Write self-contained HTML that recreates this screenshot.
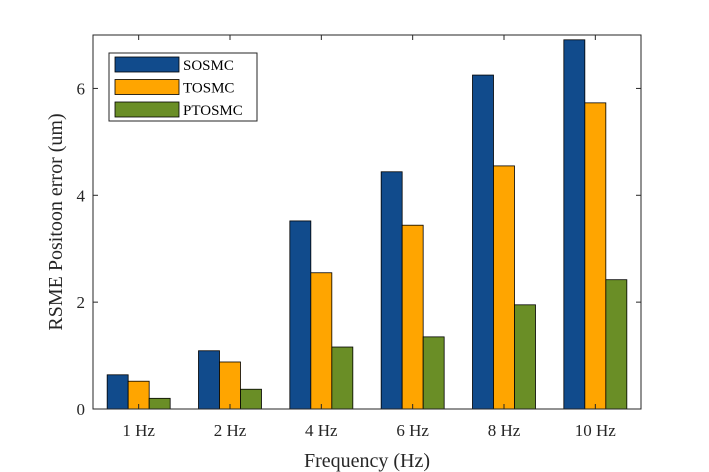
<!DOCTYPE html>
<html><head><meta charset="utf-8"><style>body{margin:0;background:#fff}svg{display:block;font-family:"Liberation Serif",serif}</style></head>
<body>
<svg id="chart" width="709" height="472"></svg>
<script>
const categories=["1 Hz","2 Hz","4 Hz","6 Hz","8 Hz","10 Hz"];
const seriesNames=["SOSMC","TOSMC","PTOSMC"];
const sosmc=[0.64,1.09,3.52,4.44,6.25,6.91];
const tosmc=[0.52,0.88,2.55,3.44,4.55,5.73];
const ptosmc=[0.2,0.37,1.16,1.35,1.95,2.42];
const yTicks=[0,2,4,6];
const colors=["#114b8c","#ffa500","#6a8e26"];
const svg=document.getElementById('chart');const NS="http://www.w3.org/2000/svg";
function mk(t,a,p){const e=document.createElementNS(NS,t);for(const k in a)e.setAttribute(k,a[k]);(p||svg).appendChild(e);return e;}
const L=93,R=641,T=35,B=409;
const x=i=>L+(i+1-0.5)/6*(R-L);
const y=v=>B-v/7*(B-T);
const bw=21;
const data=[sosmc,tosmc,ptosmc];
data.forEach((s,si)=>s.forEach((v,i)=>{
 const r=mk('rect',{x:x(i)+(si-1)*bw-bw/2,y:y(v),width:bw,height:B-y(v),fill:colors[si],stroke:'#000','stroke-width':0.8});
 
 
}));
const ax=mk('rect',{x:L,y:T,width:R-L,height:B-T,fill:'none',stroke:'#262626','stroke-width':1});

yTicks.forEach(t=>{
 mk('line',{x1:L,x2:L+5,y1:y(t),y2:y(t),stroke:'#262626'});
 mk('line',{x1:R,x2:R-5,y1:y(t),y2:y(t),stroke:'#262626'});
 const tx=mk('text',{x:L-8,y:y(t)+6,'text-anchor':'end','font-size':17,fill:'#262626'});tx.textContent=t;
 
});
categories.forEach((c,i)=>{
 mk('line',{x1:x(i),x2:x(i),y1:B,y2:B-5,stroke:'#262626'});
 mk('line',{x1:x(i),x2:x(i),y1:T,y2:T+5,stroke:'#262626'});
 const tx=mk('text',{x:x(i),y:B+27,'text-anchor':'middle','font-size':17,fill:'#262626'});tx.textContent=c;
 
});
const xt=mk('text',{x:(L+R)/2,y:467,'text-anchor':'middle','font-size':20,fill:'#262626'});xt.textContent='Frequency (Hz)';

const yt=mk('text',{x:0,y:0,'text-anchor':'middle','font-size':20,fill:'#262626',transform:`translate(62,${(T+B)/2}) rotate(-90)`});yt.textContent='RSME Positoon error (um)';

const lg=mk('g',{});
mk('rect',{x:109,y:53,width:148,height:68,fill:'#fff',stroke:'#262626'},lg);
seriesNames.forEach((n,i)=>{
 const g=mk('g',{},lg);
 const yy=57+i*22.5;
 mk('rect',{x:115,y:yy,width:64,height:15,fill:colors[i],stroke:'#000','stroke-width':0.8},g);
 const t=mk('text',{x:183,y:yy+13,'font-size':15,fill:'#000'},g);t.textContent=n;
});
</script>
</body></html>
